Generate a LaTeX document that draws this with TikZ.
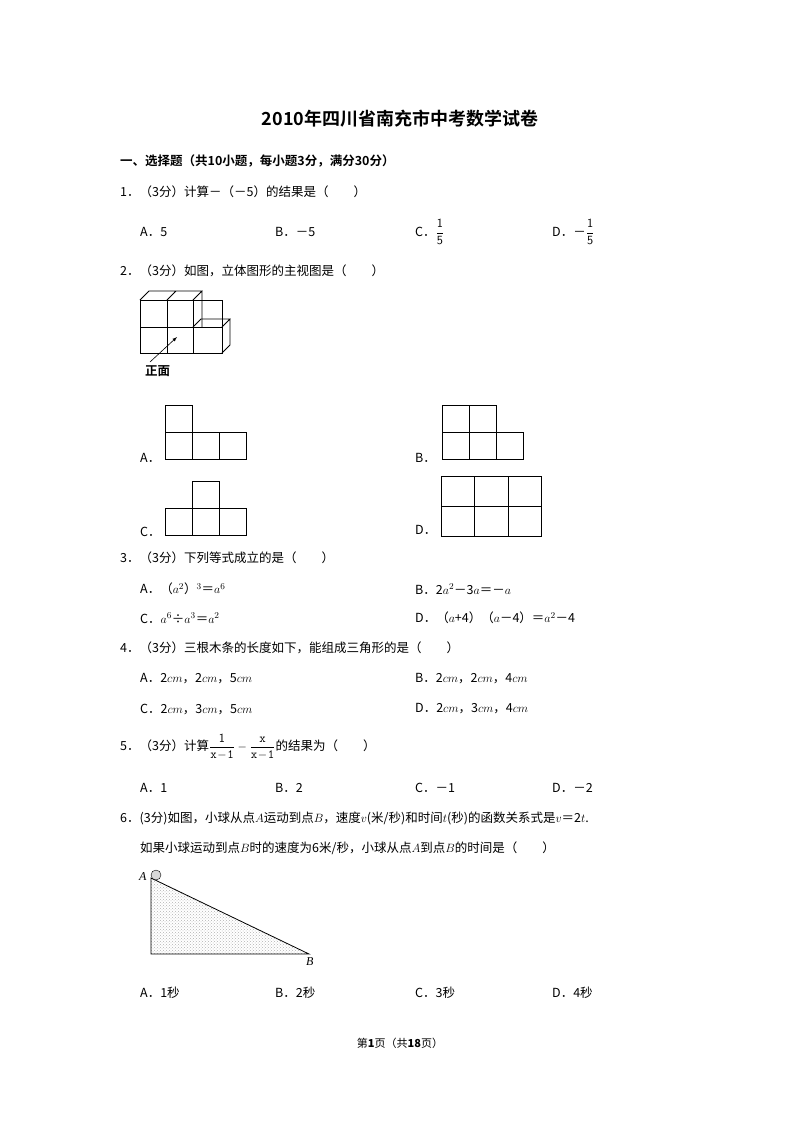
\documentclass[tikz,border=0pt]{standalone}
\usepackage{fontspec}
\setmainfont{Liberation Serif}
\newfontfamily\cjk{Noto Sans CJK SC}
\newfontfamily\cjkb{Noto Sans CJK SC Bold}
\usetikzlibrary{patterns}
\begin{document}
\begin{tikzpicture}[x=1pt,y=-1pt,
  t/.style={anchor=west,inner sep=0pt,font=\fontsize{12.5}{14}\selectfont\cjk},
  ln/.style={line width=0.8pt}]
\useasboundingbox (0,0) rectangle (800,1132);
\node[inner sep=0pt,font=\fontsize{18}{20}\selectfont\cjkb] (title) at (400,119) {2010年四川省南充市中考数学试卷};
\node[t,font=\fontsize{12.5}{14}\selectfont\cjkb] (s1) at (120,161) {一、选择题（共10小题，每小题3分，满分30分）};
\node[t] (q1) at (120,192) {1．（3分）计算－（－5）的结果是（　　）};
\node[t] (q1a) at (140,232) {A．5};
\node[t] (q1b) at (275,232) {B．－5};
\node[t] (q1c) at (415,232) {C．$\displaystyle\frac{\mathsf{1}}{\mathsf{5}}$};
\node[t] (q1d) at (552,232) {D．－$\displaystyle\frac{\mathsf{1}}{\mathsf{5}}$};
\node[t] (q2) at (120,271) {2．（3分）如图，立体图形的主视图是（　　）};
\begin{scope}[ln]
\draw (140,300) rectangle (222,353);
\draw (140,327) -- (193,327) (167,300) -- (167,353) (193,300) -- (193,353);
\draw (193,327) -- (222,327);
\draw (140,300) -- (149,291) -- (202,291) -- (193,300) (176,291) -- (167,300) (202,291) -- (202,327);
\draw (193,327) -- (201,319) -- (230,319) -- (222,327) (230,319) -- (230,345) -- (222,353);
\coordinate (ar1) at (150,362); \coordinate (ar2) at (177,337);
\draw[-latex,line width=0.6pt] (ar1) -- (ar2);
\end{scope}
\node[t,font=\fontsize{12.5}{14}\selectfont\cjkb] (zm) at (145,371) {正面};
\node[t] (oa) at (140,458) {A．};
\draw[ln] (165,405) rectangle (192,432) (165,432) rectangle (246,459) (192,432)--(192,459) (219,432)--(219,459);
\node[t] (ob) at (415,458) {B．};
\draw[ln] (442,405) rectangle (496,432) (469,405)--(469,432) (442,432) rectangle (523,459) (469,432)--(469,459) (496,432)--(496,459);
\node[t] (oc) at (140,532) {C．};
\draw[ln] (192,481) rectangle (219,508) (165,508) rectangle (246,535) (192,508)--(192,535) (219,508)--(219,535);
\node[t] (od) at (415,530) {D．};
\draw[ln] (441,476) rectangle (541,536) (441,506)--(541,506) (474,476)--(474,536) (508,476)--(508,536);
\node[t] (q3) at (120,558) {3．（3分）下列等式成立的是（　　）};
\node[t] (q3a) at (140,589) {A．（$a^2$）$^3$＝$a^6$};
\node[t] (q3b) at (415,589) {B．2$a^2$－3$a$＝－$a$};
\node[t] (q3c) at (140,618) {C．$a^6$÷$a^3$＝$a^2$};
\node[t] (q3d) at (415,618) {D．（$a$+4）（$a$－4）＝$a^2$－4};
\node[t] (q4) at (120,648) {4．（3分）三根木条的长度如下，能组成三角形的是（　　）};
\node[t] (q4a) at (140,679) {A．2$cm$，2$cm$，5$cm$};
\node[t] (q4b) at (415,679) {B．2$cm$，2$cm$，4$cm$};
\node[t] (q4c) at (140,709) {C．2$cm$，3$cm$，5$cm$};
\node[t] (q4d) at (415,709) {D．2$cm$，3$cm$，4$cm$};
\node[t] (q5) at (120,747) {5．（3分）计算$\displaystyle\frac{\mathsf{1}}{\mathtt{x\!-\!1}}-\frac{\mathtt{x}}{\mathtt{x\!-\!1}}$的结果为（　　）};
\node[t] (q5a) at (140,788) {A．1};
\node[t] (q5b) at (275,788) {B．2};
\node[t] (q5c) at (415,788) {C．－1};
\node[t] (q5d) at (552,788) {D．－2};
\node[t] (q6) at (120,818) {6．(3分)如图，小球从点$A$运动到点$B$，速度$v$(米/秒)和时间$t$(秒)的函数关系式是$v$＝2$t$.};
\node[t] (q6b) at (140,848) {如果小球运动到点$B$时的速度为6米/秒，小球从点$A$到点$B$的时间是（　　）};
\coordinate (A) at (151,878); \coordinate (C) at (151,954); \coordinate (B) at (309,954);
\fill[pattern=crosshatch dots,pattern color=gray!60] (A)--(C)--(B)--cycle;
\draw[ln] (A)--(C)--(B)--cycle;
\draw[fill=gray!30] (156,875) circle (5);
\node[t,font=\fontsize{12}{14}\selectfont\itshape] (la) at (139,877) {A};
\node[t,font=\fontsize{12}{14}\selectfont\itshape] (lb) at (306,962) {B};
\node[t] (q6aa) at (140,993) {A．1秒};
\node[t] (q6bb) at (275,993) {B．2秒};
\node[t] (q6cc) at (415,993) {C．3秒};
\node[t] (q6dd) at (552,993) {D．4秒};
\node[inner sep=0pt,font=\fontsize{11}{13}\selectfont\cjk] (foot) at (400,1043) {第\textbf{1}页（共\textbf{18}页）};
\end{tikzpicture}
\end{document}
